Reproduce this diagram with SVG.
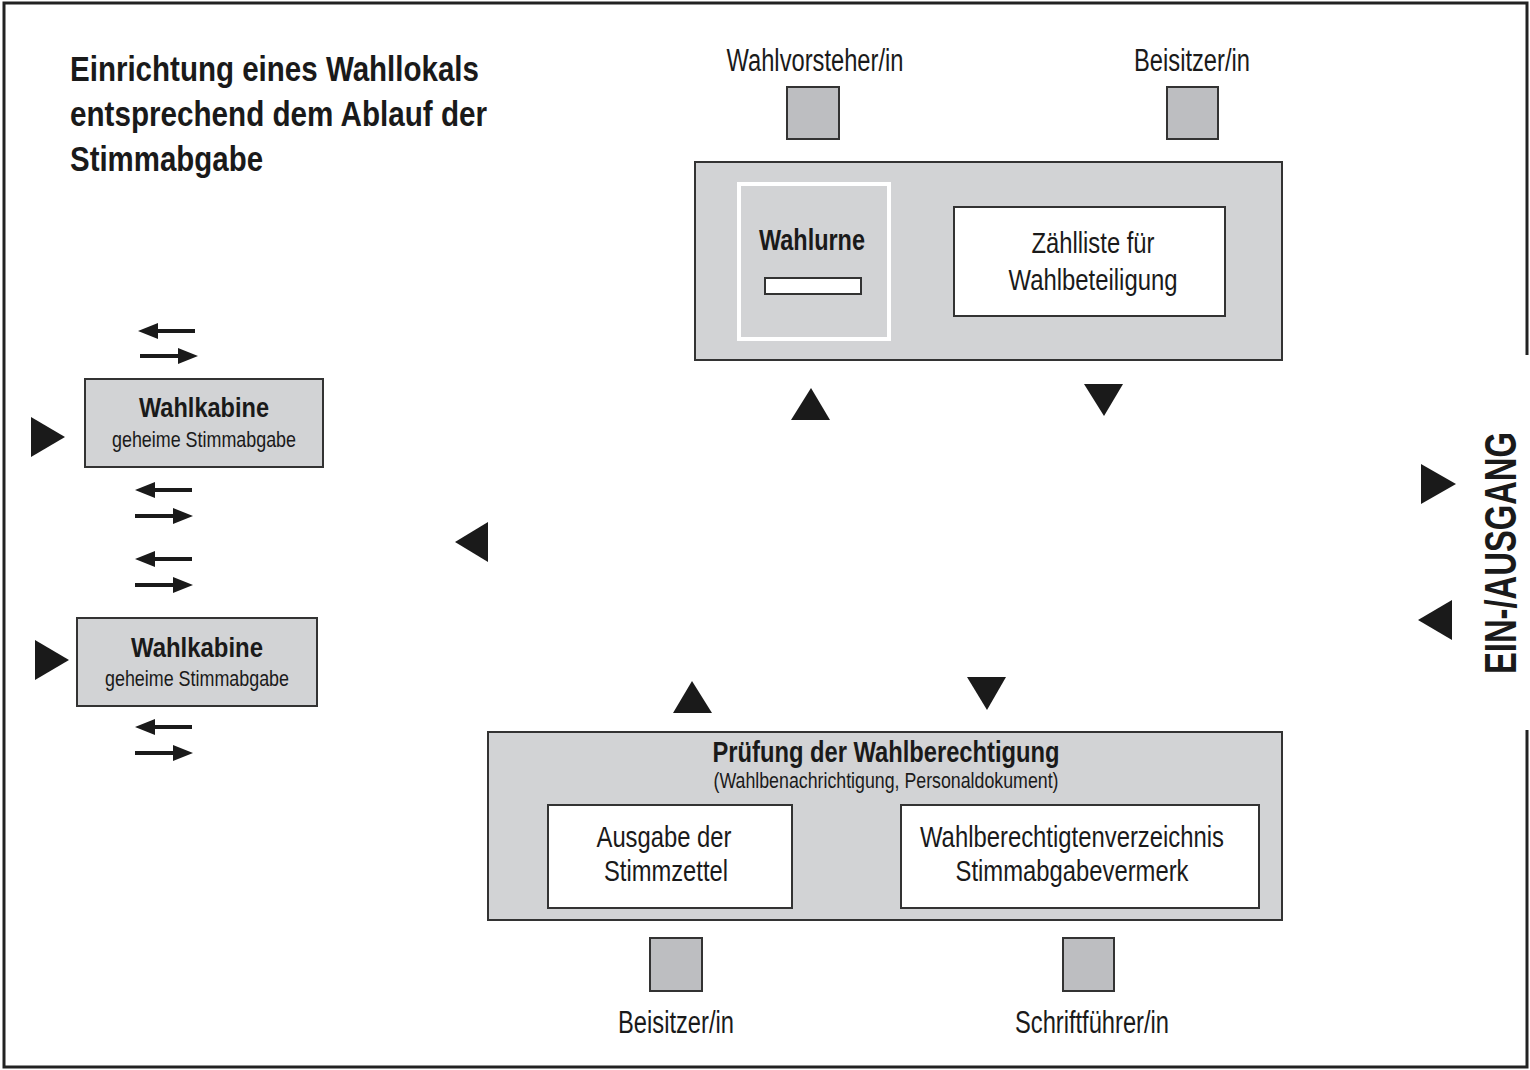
<svg xmlns="http://www.w3.org/2000/svg" width="1530" height="1070" viewBox="0 0 1530 1070">
<style>
text{font-family:"Liberation Sans Narrow","Liberation Sans",Arial,sans-serif;fill:#1a1a1a;text-anchor:middle}
.b{font-weight:bold}
.l{text-anchor:start}
.box{fill:#d2d3d5;stroke:#333;stroke-width:2}
.wbox{fill:#fff;stroke:#333;stroke-width:2}
.sq{fill:#bdbec1;stroke:#333;stroke-width:2}
.tri{fill:#1a1a1a}
.sh{stroke:#1a1a1a;stroke-width:4}
</style>
<defs>
<g id="la"><line class="sh" x1="155" y1="0" x2="195" y2="0"/><polygon class="tri" points="138,0 158,-8 158,8"/></g>
<g id="ra"><line class="sh" x1="138" y1="0" x2="178" y2="0"/><polygon class="tri" points="196,0 176,-8 176,8"/></g>
</defs>
<rect width="1530" height="1070" fill="#fff"/>
<g id="room" fill="none" stroke="#222" stroke-width="3">
<path d="M1527,355 V3 H4 V1067 H1527 V730"/>
</g>
<g id="title">
<text class="b l" x="70" y="81" font-size="35" textLength="409" lengthAdjust="spacingAndGlyphs">Einrichtung eines Wahllokals</text>
<text class="b l" x="70" y="126" font-size="35" textLength="417" lengthAdjust="spacingAndGlyphs">entsprechend dem Ablauf der</text>
<text class="b l" x="70" y="171" font-size="35" textLength="193" lengthAdjust="spacingAndGlyphs">Stimmabgabe</text>
</g>
<g id="wahlvorsteher">
<text x="815" y="71" font-size="31" textLength="177" lengthAdjust="spacingAndGlyphs">Wahlvorsteher/in</text>
<rect class="sq" x="787" y="87" width="52" height="52"/>
</g>
<g id="beisitzer-top">
<text x="1192" y="71" font-size="31" textLength="116" lengthAdjust="spacingAndGlyphs">Beisitzer/in</text>
<rect class="sq" x="1167" y="87" width="51" height="52"/>
</g>
<g id="urnentisch">
<rect class="box" x="695" y="162" width="587" height="198"/>
<rect x="739" y="184" width="150" height="155" fill="#d2d3d5" stroke="#fff" stroke-width="4"/>
<text class="b" x="812" y="250" font-size="30" textLength="106" lengthAdjust="spacingAndGlyphs">Wahlurne</text>
<rect class="wbox" x="765" y="278" width="96" height="16" stroke-width="1.5"/>
<rect class="wbox" x="954" y="207" width="271" height="109"/>
<text x="1093" y="253" font-size="30" textLength="123" lengthAdjust="spacingAndGlyphs">Zählliste für</text>
<text x="1093" y="290" font-size="30" textLength="169" lengthAdjust="spacingAndGlyphs">Wahlbeteiligung</text>
</g>
<g id="wahlkabine1">
<rect class="box" x="85" y="379" width="238" height="88"/>
<text class="b" x="204" y="417" font-size="28" textLength="130" lengthAdjust="spacingAndGlyphs">Wahlkabine</text>
<text x="204" y="447" font-size="22" textLength="184" lengthAdjust="spacingAndGlyphs">geheime Stimmabgabe</text>
</g>
<g id="wahlkabine2">
<rect class="box" x="77" y="618" width="240" height="88"/>
<text class="b" x="197" y="657" font-size="28" textLength="132" lengthAdjust="spacingAndGlyphs">Wahlkabine</text>
<text x="197" y="686" font-size="22" textLength="184" lengthAdjust="spacingAndGlyphs">geheime Stimmabgabe</text>
</g>
<g id="pruefung">
<rect class="box" x="488" y="732" width="794" height="188"/>
<text class="b" x="886" y="762" font-size="29" textLength="347" lengthAdjust="spacingAndGlyphs">Prüfung der Wahlberechtigung</text>
<text x="886" y="788" font-size="22" textLength="345" lengthAdjust="spacingAndGlyphs">(Wahlbenachrichtigung, Personaldokument)</text>
<rect class="wbox" x="548" y="805" width="244" height="103"/>
<text x="664" y="847" font-size="30" textLength="135" lengthAdjust="spacingAndGlyphs">Ausgabe der</text>
<text x="666" y="881" font-size="30" textLength="124" lengthAdjust="spacingAndGlyphs">Stimmzettel</text>
<rect class="wbox" x="901" y="805" width="358" height="103"/>
<text x="1072" y="847" font-size="30" textLength="304" lengthAdjust="spacingAndGlyphs">Wahlberechtigtenverzeichnis</text>
<text x="1072" y="881" font-size="30" textLength="233" lengthAdjust="spacingAndGlyphs">Stimmabgabevermerk</text>
</g>
<g id="beisitzer-bottom">
<rect class="sq" x="650" y="938" width="52" height="53"/>
<text x="676" y="1033" font-size="31" textLength="116" lengthAdjust="spacingAndGlyphs">Beisitzer/in</text>
</g>
<g id="schriftfuehrer">
<rect class="sq" x="1063" y="938" width="51" height="53"/>
<text x="1092" y="1033" font-size="31" textLength="154" lengthAdjust="spacingAndGlyphs">Schriftführer/in</text>
</g>
<g id="eingang">
<text class="b" transform="translate(1516,553) rotate(-90)" x="0" y="0" font-size="44" textLength="242" lengthAdjust="spacingAndGlyphs">EIN-/AUSGANG</text>
</g>
<g id="connectors">
<polygon class="tri" points="1456,484 1421,464 1421,504"/>
<polygon class="tri" points="1418,620 1452,600 1452,640"/>
<polygon class="tri" points="987,710 967,677 1006,677"/>
<polygon class="tri" points="692,681 673,713 712,713"/>
<polygon class="tri" points="455,542 488,522 488,562"/>
<polygon class="tri" points="811,388 791,420 830,420"/>
<polygon class="tri" points="1104,416 1084,384 1123,384"/>
<polygon class="tri" points="65,437 31,417 31,457"/>
<polygon class="tri" points="69,660 35,640 35,680"/>
<use href="#la" y="331"/>
<use href="#ra" x="2" y="356"/>
<use href="#la" x="-3" y="490"/>
<use href="#ra" x="-3" y="516"/>
<use href="#la" x="-3" y="559"/>
<use href="#ra" x="-3" y="585"/>
<use href="#la" x="-3" y="727"/>
<use href="#ra" x="-3" y="753"/>
</g>
</svg>
